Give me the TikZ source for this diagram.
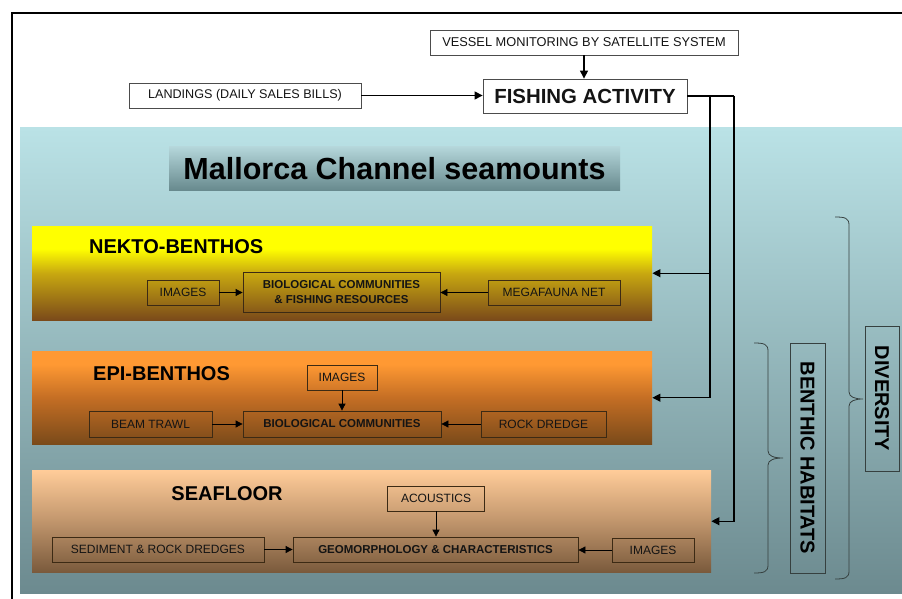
\documentclass[tikz,border=0pt]{standalone}
\usepackage{fontspec}
\setmainfont{Liberation Sans}
\usetikzlibrary{arrows.meta}
\definecolor{panelT}{HTML}{BAE2E6}
\definecolor{panelB}{HTML}{6C8A8F}
\definecolor{titleT}{HTML}{B4D6DA}
\definecolor{titleB}{HTML}{688A8E}
\definecolor{nkBot}{HTML}{7A4A1A}
\definecolor{nkMid}{HTML}{C8A810}
\definecolor{nkTop}{HTML}{FFFF00}
\definecolor{epTop}{HTML}{FF9933}
\definecolor{epMid}{HTML}{C46E24}
\definecolor{epBot}{HTML}{7A4A1A}
\definecolor{sfTop}{HTML}{FFCC99}
\definecolor{sfMid}{HTML}{C69A70}
\definecolor{sfBot}{HTML}{7A5A3C}
\definecolor{ink}{HTML}{141414}
\definecolor{edge}{HTML}{3C2A14}
\definecolor{gline}{HTML}{36403F}
\pgfdeclareverticalshading{nkshade}{100bp}{color(0bp)=(nkBot); color(25bp)=(nkBot); color(50bp)=(nkMid); color(63bp)=(nkTop); color(100bp)=(nkTop)}
\pgfdeclareverticalshading{epshade}{100bp}{color(0bp)=(epBot); color(25bp)=(epBot); color(50bp)=(epMid); color(68bp)=(epTop); color(100bp)=(epTop)}
\pgfdeclareverticalshading{sfshade}{100bp}{color(0bp)=(sfBot); color(25bp)=(sfBot); color(52bp)=(sfMid); color(75bp)=(sfTop); color(100bp)=(sfTop)}
\begin{document}
\begin{tikzpicture}[x=1pt,y=-1pt,
  topbox/.style={draw=black!70, line width=0.8pt, fill=white, inner sep=0pt, text=ink},
  band/.style={inner sep=0pt, anchor=north west, shade},
  inbox/.style={draw=edge, line width=0.8pt, inner sep=0pt, text=ink, font=\fontsize{12}{14}\selectfont},
  inboxb/.style={inbox, align=center, font=\bfseries\fontsize{11.5}{15}\selectfont},
  bandlabel/.style={font=\bfseries\fontsize{20}{24}\selectfont, text=black, inner sep=0pt},
  conn/.style={draw=black, line width=1.1pt, -{Triangle[length=8pt,width=8pt]}},
  cline/.style={draw=black, line width=1.1pt},
  iconn/.style={draw=black, line width=0.8pt, -{Triangle[length=7pt,width=7pt]}},
  brc/.style={draw=gline, line width=0.8pt},
  vbox/.style={draw=gline, line width=0.8pt, inner sep=0pt, rotate=-90, font=\bfseries\fontsize{20}{24}\selectfont, text=black},
  titlefont/.style={font=\bfseries\fontsize{30.5}{36}\selectfont, inner sep=0pt}
]
\useasboundingbox (0,0) rectangle (902,599);
\fill[white] (0,0) rectangle (902,599);
\draw[line width=2pt] (12,600) -- (12,13) -- (903,13);
% panel
\shade[top color=panelT, bottom color=panelB] (20,128) rectangle (902,593);
% title
\node[titlefont, text=black, minimum width=451pt, minimum height=43pt, top color=titleT, bottom color=titleB] (title) at (394.5,168.5) {Mallorca Channel seamounts};
% top boxes
\node[topbox, minimum width=308pt, minimum height=25pt, font=\fontsize{12.8}{15}\selectfont] (vms) at (584,42.5) {VESSEL MONITORING BY SATELLITE SYSTEM};
\node[topbox, minimum width=232pt, minimum height=25pt, font=\fontsize{12.6}{15}\selectfont] (land) at (245,95.5) {LANDINGS (DAILY SALES BILLS)};
\node[topbox, minimum width=204pt, minimum height=34pt, font=\bfseries\fontsize{20.4}{24}\selectfont] (fa) at (585,96) {FISHING ACTIVITY};
\draw[conn] (land.east) -- (land.east -| fa.west);
\draw[conn] (vms.south) -- (vms.south |- fa.north);
% bands
\node[band, shading=nkshade, minimum width=620pt, minimum height=94pt] (nekto) at (32,226) {};
\node[band, shading=epshade, minimum width=620pt, minimum height=93pt] (epi) at (32,351) {};
\node[band, shading=sfshade, minimum width=679pt, minimum height=102pt] (sea) at (32,470) {};
% labels
\node[bandlabel, anchor=west] (nklab) at (89,247) {NEKTO-BENTHOS};
\node[bandlabel, anchor=west] (eplab) at (93,374) {EPI-BENTHOS};
\node[bandlabel] (sflab) at (227,494) {SEAFLOOR};
% nekto boxes
\node[inbox, minimum width=72pt, minimum height=25pt] (img1) at (183,292.5) {IMAGES};
\node[inboxb, minimum width=197pt, minimum height=40pt] (bio1) at (341.5,292) {BIOLOGICAL COMMUNITIES\\ \& FISHING RESOURCES};
\node[inbox, minimum width=132pt, minimum height=25pt] (mega) at (554,292.5) {MEGAFAUNA NET};
\draw[iconn] (img1.east) -- (img1.east -| bio1.west);
\draw[iconn] (mega.west) -- (mega.west -| bio1.east);
% epi boxes
\node[inbox, minimum width=70pt, minimum height=25pt] (img2) at (342,377.5) {IMAGES};
\node[inbox, minimum width=123pt, minimum height=26pt] (beam) at (150.5,424) {BEAM TRAWL};
\node[inboxb, minimum width=198pt, minimum height=26pt] (bio2) at (342,424) {BIOLOGICAL COMMUNITIES};
\node[inbox, minimum width=125pt, minimum height=26pt] (rock) at (543.5,424) {ROCK DREDGE};
\draw[iconn] (img2.south) -- (bio2.north);
\draw[iconn] (beam.east) -- (bio2.west);
\draw[iconn] (rock.west) -- (bio2.east);
% seafloor boxes
\node[inbox, minimum width=97pt, minimum height=25pt] (acou) at (436,498.5) {ACOUSTICS};
\node[inbox, minimum width=212pt, minimum height=25pt] (sed) at (158,549.5) {SEDIMENT \& ROCK DREDGES};
\node[inboxb, minimum width=285pt, minimum height=25pt] (geo) at (435.5,549.5) {GEOMORPHOLOGY \& CHARACTERISTICS};
\node[inbox, minimum width=82pt, minimum height=24pt] (img3) at (653,550) {IMAGES};
\draw[iconn] (acou.south) -- (acou.south |- geo.north);
\draw[iconn] (sed.east) -- (geo.west);
\draw[iconn] (img3.west) -- (img3.west -| geo.east);
% fishing connectors
\coordinate (j1) at (710,96);
\coordinate (j2) at (734,96);
\draw[cline] (fa.east) -- (j2);
\draw[conn] (j1) |- (epi.east);
\draw[conn] (j1 |- nekto.east) -- (nekto.east);
\draw[conn] (j2) |- (sea.east);
% vertical labels
\node[vbox, minimum width=230pt, minimum height=35pt] (bh) at (807.5,458) {BENTHIC HABITATS};
\node[vbox, minimum width=145pt, minimum height=34pt] (div) at (882,398.5) {DIVERSITY};
% braces
\draw[brc] (754,343) .. controls (764,343) and (768,344) .. (768,351) -- (768,451)
  .. controls (768,456) and (774,458) .. (783,458)
  .. controls (774,458) and (768,460) .. (768,465) -- (768,565)
  .. controls (768,572) and (764,573) .. (754,573);
\draw[brc] (835,217) .. controls (845,217) and (849,218) .. (849,225) -- (849,392)
  .. controls (849,397) and (855,399) .. (863,399)
  .. controls (855,399) and (849,401) .. (849,406) -- (849,571)
  .. controls (849,578) and (845,579) .. (835,579);
\end{tikzpicture}
\end{document}
